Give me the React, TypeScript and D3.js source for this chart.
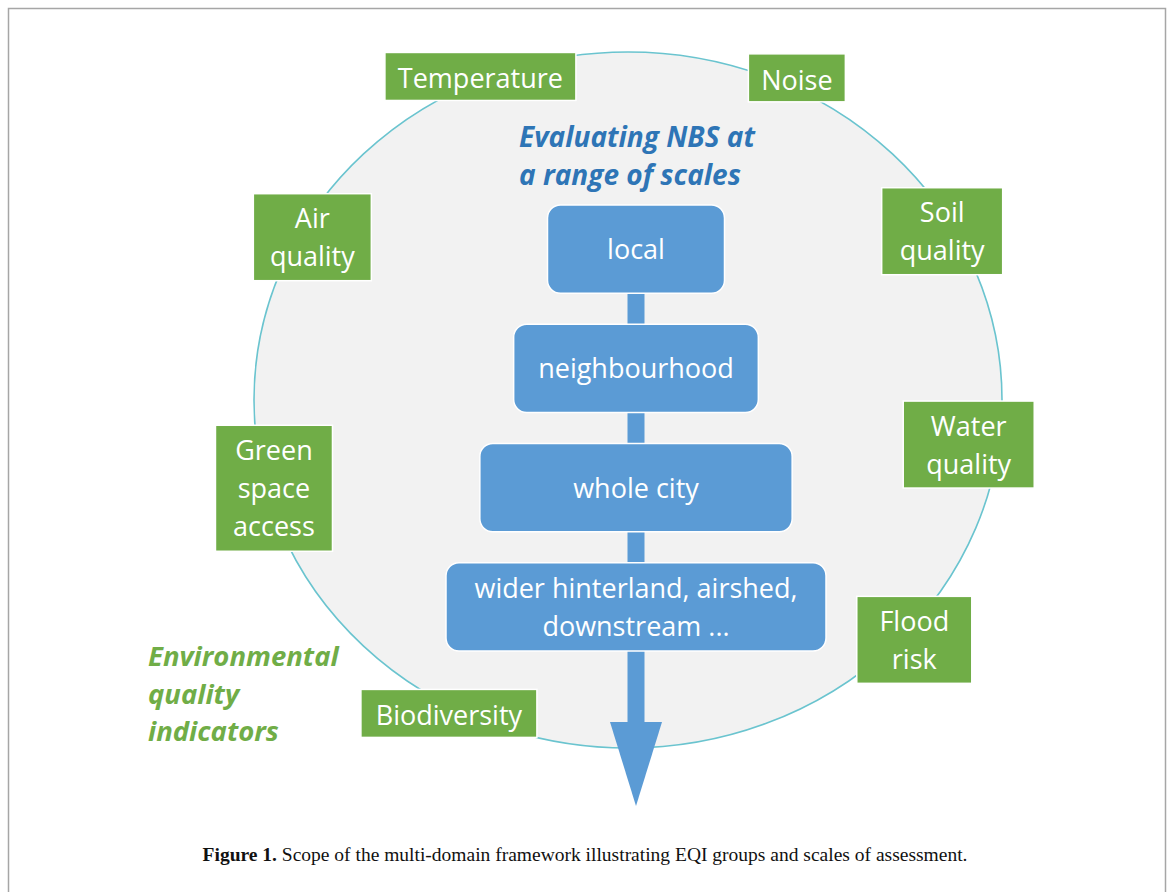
import React from 'react';
import * as d3 from 'd3';

// indicator boxes round the circle
const indicatorLabels = [
  ['Temperature'], ['Noise'], ['Air', 'quality'], ['Soil', 'quality'],
  ['Green', 'space', 'access'], ['Water', 'quality'], ['Flood', 'risk'], ['Biodiversity'],
];
const indicatorAngles = [-113, -64, -151, -30, 165, 8, 42, 118];
const indicatorRadius = [1.01, 1.03, 0.965, 0.97, 0.98, 0.92, 1.03, 1.02];
const indicatorWidths = [191, 97, 118, 121, 117, 131, 115, 176];

// scales of assessment, top to bottom
const scaleLabels = [['local'], ['neighbourhood'], ['whole city'], ['wider hinterland, airshed,', 'downstream ...']];

const headingLines = ['Evaluating NBS at', 'a range of scales'];
const groupLines = ['Environmental', 'quality', 'indicators'];

const W = 1171, H = 892;
const SANS = '"Open Sans", sans-serif';
const GREEN = '#70ad47', BLUE = '#5b9bd5';
const LINE = 38;

const xUnit = d3.scaleLinear().domain([-1, 1]).range([254, 1002]);
const yUnit = d3.scaleLinear().domain([-1, 1]).range([52, 748]);
const rad = (deg: number) => (deg * Math.PI) / 180;

const yBand = d3.scaleBand<number>().domain(d3.range(scaleLabels.length)).range([205, 651]).paddingInner(0.26);
const widthScale = d3.scaleLinear().domain([0, scaleLabels.length - 1]).range([177, 380]);
const arrowX = 636;

const lines = (arr: string[], cy: number, off = 10) =>
  arr.map((t, i) => ({ t, y: cy + (i - (arr.length - 1) / 2) * LINE + off }));

export default function App() {
  const cx = xUnit(0), cy = yUnit(0);
  const rx = xUnit(1) - cx, ry = yUnit(1) - cy;

  const shaftTop = yBand(0)! + yBand.bandwidth();
  const headTop = 722, headBot = 806, headHalf = 26;
  const head = d3.line()([[arrowX - headHalf, headTop], [arrowX + headHalf, headTop], [arrowX, headBot]]) + 'Z';

  return (
    <svg width={W} height={H} style={{ position: 'absolute', left: 0, top: 0, background: '#fff' }}>
      <rect x={8.5} y={8.5} width={1157} height={H + 10} fill="none" stroke="#a6a6a6" strokeWidth={1.5} />

      <ellipse cx={cx} cy={cy} rx={rx} ry={ry} fill="#f2f2f2" stroke="#6ac4cf" strokeWidth={1.6} />

      {/* arrow behind the scale boxes */}
      <rect x={arrowX - 8.5} y={shaftTop} width={17} height={headTop - shaftTop + 1} fill={BLUE} />
      <path d={head} fill={BLUE} />

      {scaleLabels.map((lab, i) => {
        const w = widthScale(i), y0 = yBand(i)!, h = yBand.bandwidth();
        return (
          <g key={i}>
            <rect x={arrowX - w / 2} y={y0} width={w} height={h} rx={13} fill={BLUE} stroke="#fff" strokeWidth={1.5} />
            {lines(lab, y0 + h / 2).map((l, j) => (
              <text key={j} x={arrowX} y={l.y} textAnchor="middle" fill="#fff" fontFamily={SANS} fontSize={27}>{l.t}</text>
            ))}
          </g>
        );
      })}

      {indicatorLabels.map((lab, i) => {
        const a = rad(indicatorAngles[i]), r = indicatorRadius[i];
        const x = xUnit(r * Math.cos(a)), y = yUnit(r * Math.sin(a));
        const w = indicatorWidths[i], h = 48 + (lab.length - 1) * 39;
        return (
          <g key={i}>
            <rect x={x - w / 2} y={y - h / 2} width={w} height={h} fill={GREEN} stroke="#fff" strokeWidth={1.5} />
            {lines(lab, y, lab.length === 1 ? 12 : 10).map((l, j) => (
              <text key={j} x={x} y={l.y} textAnchor="middle" fill="#fff" fontFamily={SANS} fontSize={27}>{l.t}</text>
            ))}
          </g>
        );
      })}

      {headingLines.map((t, i) => (
        <text key={i} x={519} y={147 + i * LINE} fill="#2e75b6" fontFamily={SANS} fontWeight="bold" fontStyle="italic" fontSize={28}>{t}</text>
      ))}

      {groupLines.map((t, i) => (
        <text key={i} x={148} y={666 + i * 37.5} fill={GREEN} fontFamily={SANS} fontWeight="bold" fontStyle="italic" fontSize={27.5}>{t}</text>
      ))}

      <text x={585} y={861} textAnchor="middle" fontFamily='"Liberation Serif", serif' fontSize={19.5} fill="#111">
        <tspan fontWeight="bold">Figure 1.</tspan> Scope of the multi-domain framework illustrating EQI groups and scales of assessment.
      </text>
    </svg>
  );
}
